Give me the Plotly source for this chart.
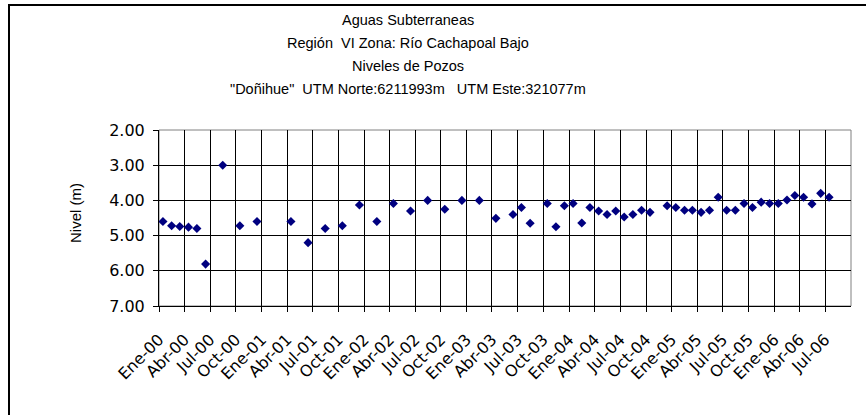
import plotly.graph_objects as go

# Monthly well-level readings (depth to water, m)
fechas = [
    "2000-01-15", "2000-02-15", "2000-03-15", "2000-04-15", "2000-05-15", "2000-06-15",
    "2000-08-15", "2000-10-15", "2000-12-15", "2001-04-15", "2001-06-15", "2001-08-15",
    "2001-10-15", "2001-12-15", "2002-02-15", "2002-04-15", "2002-06-15", "2002-08-15",
    "2002-10-15", "2002-12-15", "2003-02-15", "2003-04-15", "2003-06-15", "2003-07-15",
    "2003-08-15", "2003-10-15", "2003-11-15", "2003-12-15", "2004-01-15", "2004-02-15",
    "2004-03-15", "2004-04-15", "2004-05-15", "2004-06-15", "2004-07-15", "2004-08-15",
    "2004-09-15", "2004-10-15", "2004-12-15", "2005-01-15", "2005-02-15", "2005-03-15",
    "2005-04-15", "2005-05-15", "2005-06-15", "2005-07-15", "2005-08-15", "2005-09-15",
    "2005-10-15", "2005-11-15", "2005-12-15", "2006-01-15", "2006-02-15", "2006-03-15",
    "2006-04-15", "2006-05-15", "2006-06-15", "2006-07-15",
]
niveles = [
    4.60, 4.72, 4.74, 4.76, 4.80, 5.81,
    3.00, 4.72, 4.60, 4.60, 5.20, 4.80,
    4.72, 4.13, 4.60, 4.09, 4.30, 4.00,
    4.25, 4.00, 4.00, 4.51, 4.40, 4.20,
    4.65, 4.09, 4.75, 4.15, 4.09, 4.64,
    4.20, 4.30, 4.40, 4.30, 4.47, 4.40,
    4.28, 4.34, 4.15, 4.20, 4.28, 4.28,
    4.34, 4.28, 3.91, 4.28, 4.28, 4.09,
    4.20, 4.05, 4.09, 4.09, 3.99, 3.86,
    3.91, 4.10, 3.80, 3.91,
]

# Quarterly tick marks
tick_fechas = [f"{y}-{m:02d}-01" for y in range(2000, 2007) for m in (1, 4, 7, 10)][:27]
meses = {1: "Ene", 4: "Abr", 7: "Jul", 10: "Oct"}
tick_textos = [f"{meses[int(f[5:7])]}-{f[2:4]}" for f in tick_fechas]

y_ticks = [2, 3, 4, 5, 6, 7]
y_textos = [f"{v:.2f}" for v in y_ticks]

titulo = [
    "Aguas Subterraneas",
    "Región  VI Zona: Río Cachapoal Bajo",
    "Niveles de Pozos",
    "\"Doñihue\"  UTM Norte:6211993m   UTM Este:321077m",
]

W, H = 866, 415
ML, MR, MT, MB = 159, 15, 130, 109
pw, ph = W - ML - MR, H - MT - MB


def px_x(x):
    return (x - ML) / pw


def px_y(y):
    return (H - MB - y) / ph


fig = go.Figure()
fig.add_trace(go.Scatter(
    x=fechas, y=niveles, mode="markers",
    marker=dict(symbol="diamond", size=7, color="#000080",
                line=dict(width=0)),
    showlegend=False,
))

tick_font = dict(family="DejaVu Sans", size=16, color="black")

fig.update_xaxes(
    type="date", range=["2000-01-01", "2006-10-01"],
    tickmode="array", tickvals=tick_fechas, ticktext=tick_textos,
    tickangle=-45, tickfont=tick_font, ticklabelstandoff=12,
    ticks="outside", ticklen=5, tickcolor="black", tickwidth=1,
    showgrid=True, gridcolor="black", gridwidth=1,
    showline=True, linecolor="black", linewidth=1,
    zeroline=False,
)
fig.update_yaxes(
    range=[7, 2], tickmode="array", tickvals=y_ticks, ticktext=y_textos,
    tickfont=tick_font, ticklabelstandoff=5,
    ticks="outside", ticklen=5, tickcolor="black", tickwidth=1,
    showgrid=True, gridcolor="black", gridwidth=1,
    showline=True, linecolor="black", linewidth=1,
    zeroline=False,
)

# plot-area frame (top / right) and outer chart border
fig.add_shape(type="rect", xref="paper", yref="paper", x0=0, x1=1, y0=0, y1=1,
              line=dict(color="#808080", width=1), layer="below")
fig.add_shape(type="rect", xref="paper", yref="paper",
              x0=px_x(9), x1=px_x(W + 20), y0=px_y(H + 20), y1=px_y(5),
              line=dict(color="black", width=2))

title_ys = [20, 43, 66, 89]
for txt, yy in zip(titulo, title_ys):
    fig.add_annotation(text=txt, xref="paper", yref="paper",
                       x=px_x(408), y=px_y(yy), xanchor="center", yanchor="middle",
                       showarrow=False,
                       font=dict(family="Liberation Sans", size=14.5, color="black"))

fig.add_annotation(text="Nivel (m)", xref="paper", yref="paper",
                   x=px_x(75), y=px_y(213), xanchor="center", yanchor="middle",
                   textangle=-90, showarrow=False,
                   font=dict(family="Liberation Sans", size=15, color="black"))

fig.update_layout(
    width=W, height=H,
    margin=dict(l=ML, r=MR, t=MT, b=MB),
    paper_bgcolor="white", plot_bgcolor="white",
)

fig.write_html("out.html")
